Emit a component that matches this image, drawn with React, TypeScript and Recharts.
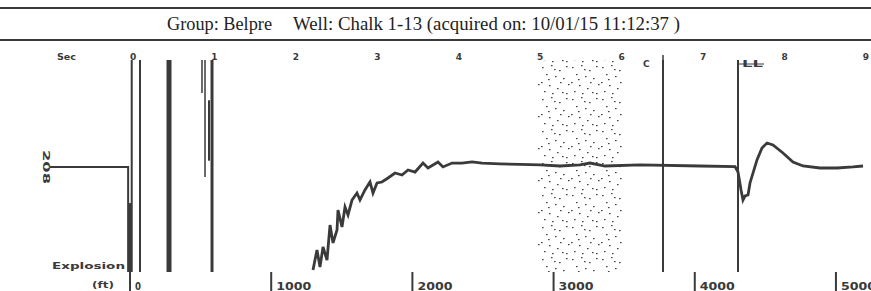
import React from "react";
import {
  ComposedChart,
  Line,
  XAxis,
  YAxis,
  ReferenceLine,
  ReferenceArea,
} from "recharts";

// top axis (seconds) and bottom axis (feet)
const secTicks = [0, 1, 2, 3, 4, 5, 6, 7, 8, 9];
const ftTicks = [0, 1000, 2000, 3000, 4000, 5000];

// shot / explosion part of the trace
const explosionSec = [-1.02, -0.06, -0.06];
const explosionAmp = [-0.01, -0.01, -1];

// acoustic trace after the shot
const traceSec = [
  2.21, 2.259, 2.296, 2.333, 2.382, 2.419, 2.456, 2.505, 2.517, 2.566, 2.603, 2.64,
  2.689, 2.75, 2.787, 2.848, 2.91, 2.947, 2.996, 3.057, 3.131, 3.217, 3.303, 3.377,
  3.463, 3.561, 3.622, 3.745, 3.806, 3.917, 4.04, 4.163, 4.286, 4.506, 4.752, 4.998,
  5.243, 5.489, 5.612, 5.796, 6.225, 6.962, 7.392, 7.429, 7.466, 7.49, 7.515, 7.552,
  7.576, 7.662, 7.723, 7.785, 7.858, 7.981, 8.104, 8.227, 8.436, 8.645, 8.841, 8.964,
];
const traceAmp = [
  -0.981, -0.792, -0.953, -0.764, -0.887, -0.557, -0.726, -0.604, -0.415, -0.575, -0.387,
  -0.462, -0.321, -0.255, -0.321, -0.226, -0.151, -0.255, -0.16, -0.151, -0.113, -0.066,
  -0.085, -0.038, -0.057, 0.028, -0.019, 0.038, -0.009, 0.028, 0.028, 0.038, 0.028, 0.02,
  0.015, 0.01, 0, 0.01, 0.028, 0, 0.01, 0, -0.005, -0.057, -0.226, -0.321, -0.283, -0.274,
  -0.16, 0.057, 0.17, 0.217, 0.198, 0.123, 0.038, 0, -0.019, -0.019, -0.009, 0,
];

// full height marker lines (sec)
const markerSec = [-0.016, 0.086, 0.442, 0.97, 6.508, 7.429];
// partial marker lines (sec, from amp, to amp)
const partialSec = [-0.037, 0.847, 0.884, 0.933];
const partialFrom = [-0.35, 1, 1, 0.62];
const partialTo = [-1, 0.689, -0.104, 0.05];

// noisy (dotted) zone
const zoneSec = [4.973, 6.004];

const INK = "#3a3a3a";
const markerWidths = [2, 2, 5, 3, 2, 2];
const partialWidths = [2, 1.5, 1.5, 2];
const labelFont = "'DejaVu Sans', Arial, sans-serif";

const explosionData = explosionSec.map((s, i) => ({ s, a: explosionAmp[i] }));
const traceData = traceSec.map((s, i) => ({ s, a: traceAmp[i] }));
// lets the depth axis know about its range
const ftData = ftTicks.map((f) => ({ f, a: null }));

function SecTick(props: any) {
  const { x, payload } = props;
  return (
    <text x={x} y={60} textAnchor="middle" fontSize={9} fontWeight="bold" fontFamily={labelFont} fill={INK}>
      {payload.value}
    </text>
  );
}

function FtTick(props: any) {
  const { x, payload } = props;
  const label = String(payload.value);
  return (
    <g>
      <line x1={x} x2={x} y1={272} y2={291} stroke={INK} strokeWidth={2} />
      <text
        x={x + 5}
        y={290}
        fontSize={10}
        fontWeight="bold"
        fontFamily={labelFont}
        fill={INK}
        textLength={label.length > 1 ? 35 : 6}
        lengthAdjust="spacingAndGlyphs"
      >
        {label}
      </text>
    </g>
  );
}

// small dot texture for the noise zone
const dots = [
  [2, 3], [11, 1], [19, 6], [26, 2], [6, 10], [15, 12], [23, 14], [1, 18], [9, 21],
  [28, 20], [17, 24], [4, 27], [12, 29], [22, 28], [26, 29], [20, 18], [8, 15], [14, 5],
];

export default function App() {
  return (
    <div style={{ position: "absolute", left: 0, top: 0, width: 871, height: 291, background: "#fff", overflow: "hidden" }}>
      <svg width={0} height={0} style={{ position: "absolute" }}>
        <defs>
          <pattern id="noiseDots" patternUnits="userSpaceOnUse" width={30} height={32}>
            {dots.map(([dx, dy], i) => (
              <rect key={i} x={dx} y={dy} width={1.6} height={1.2} fill="#444" />
            ))}
          </pattern>
        </defs>
      </svg>

      <ComposedChart width={871} height={291} margin={{ top: 0, right: 3, bottom: 0, left: 48 }}>
        <XAxis
          xAxisId="sec"
          dataKey="s"
          type="number"
          orientation="top"
          domain={[-1.044, 9.025]}
          ticks={secTicks}
          interval={0}
          height={60}
          axisLine={false}
          tickLine={false}
          tick={SecTick}
          allowDataOverflow
        />
        <XAxis
          xAxisId="ft"
          dataKey="f"
          type="number"
          orientation="bottom"
          domain={[-581, 5227]}
          ticks={ftTicks}
          interval={0}
          height={19}
          axisLine={false}
          tickLine={false}
          tick={FtTick}
          allowDataOverflow
        />
        <YAxis type="number" domain={[-1, 1]} hide allowDataOverflow />

        <ReferenceArea
          xAxisId="sec"
          x1={zoneSec[0]}
          x2={zoneSec[1]}
          y1={-1}
          y2={1}
          fill="url(#noiseDots)"
          fillOpacity={1}
          stroke="none"
        />

        {markerSec.map((s, i) => (
          <ReferenceLine key={"m" + i} xAxisId="sec" x={s} stroke={INK} strokeWidth={markerWidths[i]} />
        ))}
        {partialSec.map((s, i) => (
          <ReferenceLine
            key={"p" + i}
            xAxisId="sec"
            segment={[
              { x: s, y: partialFrom[i] },
              { x: s, y: partialTo[i] },
            ]}
            stroke={INK}
            strokeWidth={partialWidths[i]}
          />
        ))}

        <Line
          xAxisId="ft"
          data={ftData}
          dataKey="a"
          stroke="none"
          dot={false}
          legendType="none"
          isAnimationActive={false}
        />
        <Line
          xAxisId="sec"
          data={explosionData}
          dataKey="a"
          type="linear"
          stroke={INK}
          strokeWidth={2}
          dot={false}
          isAnimationActive={false}
        />
        <Line
          xAxisId="sec"
          data={traceData}
          dataKey="a"
          type="linear"
          stroke={INK}
          strokeWidth={2.8}
          dot={false}
          isAnimationActive={false}
        />
      </ComposedChart>

      <svg width={871} height={291} style={{ position: "absolute", left: 0, top: 0, pointerEvents: "none" }}>
        <line x1={0} x2={871} y1={8} y2={8} stroke={INK} strokeWidth={2} />
        <line x1={0} x2={871} y1={40} y2={40} stroke={INK} strokeWidth={2} />
        <text x={167} y={30} fontSize={18} fontFamily="'Liberation Serif', 'Times New Roman', serif" fill="#222" textLength={105} lengthAdjust="spacingAndGlyphs">
          Group: Belpre
        </text>
        <text x={293} y={30} fontSize={18} fontFamily="'Liberation Serif', 'Times New Roman', serif" fill="#222" textLength={387} lengthAdjust="spacingAndGlyphs">
          Well: Chalk 1-13 (acquired on: 10/01/15 11:12:37 )
        </text>
        <g fontFamily={labelFont} fontWeight="bold" fill={INK}>
          <text x={57} y={60} fontSize={9} textLength={19} lengthAdjust="spacingAndGlyphs">Sec</text>
          <text x={47} y={163} fontSize={9} textAnchor="middle" transform="rotate(90 43 163)" textLength={34} lengthAdjust="spacingAndGlyphs">208</text>
          <text x={52} y={269} fontSize={8} textLength={73} lengthAdjust="spacingAndGlyphs">Explosion</text>
          <text x={92} y={288} fontSize={8} textLength={22} lengthAdjust="spacingAndGlyphs">(ft)</text>
          <text x={643} y={67} fontSize={9}>C</text>
          <line x1={663} x2={663} y1={55} y2={62} stroke={INK} strokeWidth={1.5} />
          <text x={742} y={67} fontSize={9} textLength={21} lengthAdjust="spacingAndGlyphs">LL</text>
          <line x1={739} x2={764} y1={64} y2={64} stroke={INK} strokeWidth={1} />
        </g>
      </svg>
    </div>
  );
}
